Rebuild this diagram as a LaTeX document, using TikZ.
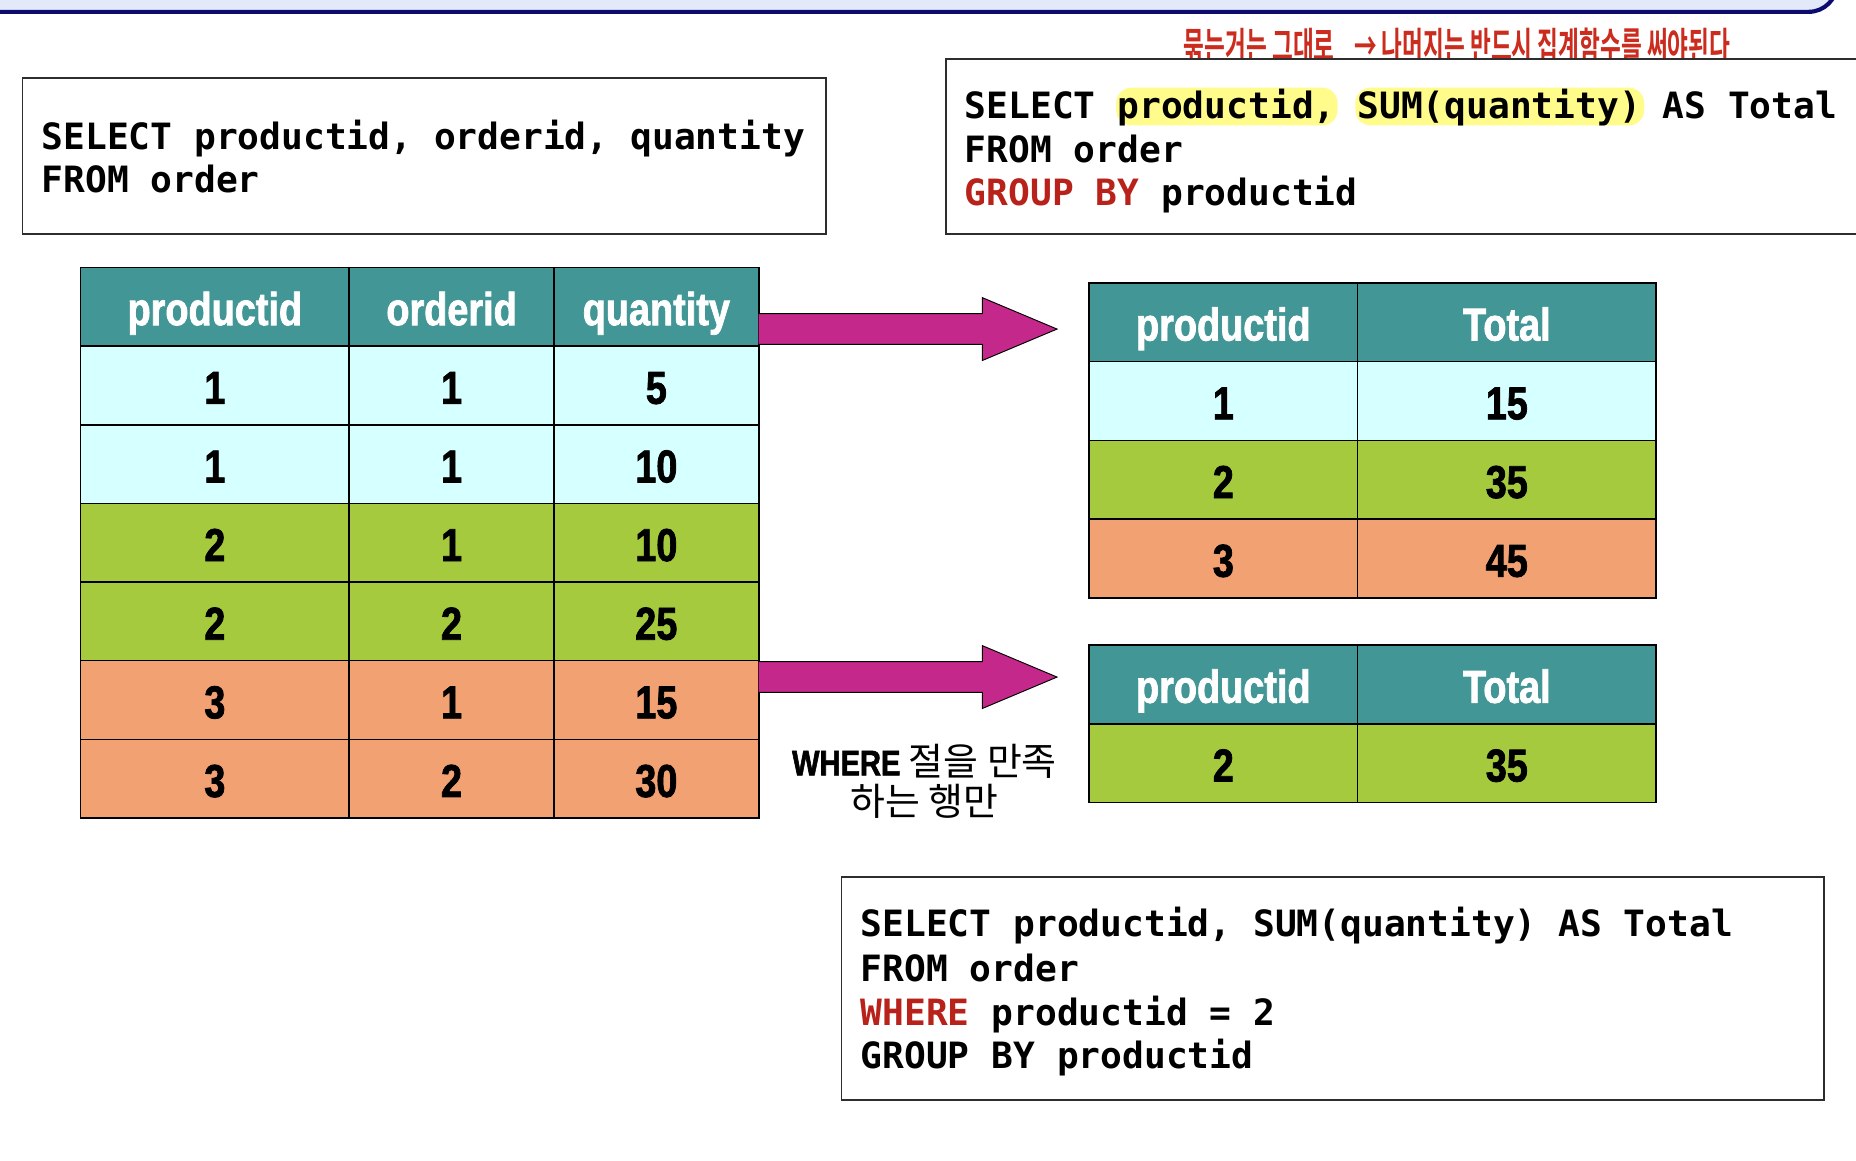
\documentclass[tikz,border=0pt]{standalone}
\usepackage{fontspec}
\usetikzlibrary{calc}
\newfontfamily\codefont{DejaVu Sans Mono}
\newfontfamily\narrowfont[FakeStretch=0.82,FakeBold=1.6]{Liberation Sans Bold}
\newfontfamily\krfont{Noto Sans CJK KR}
\newfontfamily\krbold{Noto Sans CJK KR Bold}
\definecolor{navybar}{RGB}{12,12,110}
\definecolor{barblue}{RGB}{226,234,250}
\definecolor{boxgray}{RGB}{45,45,45}
\definecolor{headteal}{RGB}{66,150,150}
\definecolor{rowcyan}{RGB}{214,255,255}
\definecolor{rowgreen}{RGB}{166,202,62}
\definecolor{roworange}{RGB}{241,161,114}
\definecolor{arrowmag}{RGB}{196,40,138}
\definecolor{hlyellow}{RGB}{255,252,140}
\definecolor{codered}{RGB}{184,34,26}
\definecolor{handred}{RGB}{204,44,30}
\begin{document}
\begin{tikzpicture}[x=1pt,y=-1pt,
  codebox/.style={draw=boxgray, line width=1.5pt, fill=white, inner sep=0pt},
  codeline/.style={anchor=base west, inner sep=0pt, font=\codefont\bfseries\fontsize{30.6}{37}\selectfont},
  cell/.style={draw=black, line width=1.3pt, minimum height=66.45pt, inner sep=0pt,
    text height=31pt, text depth=0pt,
    font=\narrowfont\fontsize{39}{39}\selectfont},
  headcell/.style={cell, fill=headteal, text=white},
  fatarrow/.style={draw=black, line width=0.8pt, fill=arrowmag, line join=miter},
  hl/.style={fill=hlyellow, rounded corners=13pt}]
\useasboundingbox (0,0) rectangle (1568,980);
\fill[white] (0,0) rectangle (1568,980);

% top banner
\draw[draw=navybar, line width=3.5pt, fill=barblue, rounded corners=24pt] (-40,-60) rectangle (1552,10);

% handwritten note
\node[anchor=west, inner sep=0pt, text=handred, font=\krbold\fontsize{21}{21}\selectfont] (memo) at (1000,39)
  {\scalebox{0.91}[1.55]{묶는거는 그대로\hspace{18pt}→ 나머지는 반드시 집계함수를 써야된다}};

% query box 1
\node[codebox, minimum width=679pt, minimum height=132pt] (q1) at (358.5,132) {};
\node[codeline] (q1a) at (35,126) {SELECT productid, orderid, quantity};
\node[codeline] (q1b) at (35,163) {FROM order};

% query box 2
\node[codebox, minimum width=790pt, minimum height=148pt] (q2) at (1194,124) {};
\fill[hl] (943,74) rectangle (1130,106);
\fill[hl] (1145,74) rectangle (1389,106);
\node[codeline] (q2a) at (815,100) {SELECT productid, SUM(quantity) AS Total};
\node[codeline] (q2b) at (815,137) {FROM order};
\node[codeline] (q2c) at (815,174) {\textcolor{codered}{GROUP BY} productid};

% query box 3
\node[codebox, minimum width=830pt, minimum height=188pt] (q3) at (1126,835) {};
\node[codeline] (q3a) at (727,791) {SELECT productid, SUM(quantity) AS Total};
\node[codeline] (q3b) at (727,829) {FROM order};
\node[codeline] (q3c) at (727,866) {\textcolor{codered}{WHERE} productid = 2};
\node[codeline] (q3d) at (727,903) {GROUP BY productid};

% left table
\node[headcell, minimum width=227pt] (L0-a) at (181.5,259.2) {productid};
\node[headcell, minimum width=173pt] (L0-b) at (381.5,259.2) {orderid};
\node[headcell, minimum width=173pt] (L0-c) at (554.5,259.2) {quantity};
\foreach \pa/\pb/\pc/\col [count=\i] in {1/1/5/rowcyan,1/1/10/rowcyan,2/1/10/rowgreen,2/2/25/rowgreen,3/1/15/roworange,3/2/30/roworange}{
  \pgfmathsetmacro\yy{259.2+66.43*\i}
  \node[cell, fill=\col, minimum width=227pt] (L\i-a) at (181.5,\yy) {\pa};
  \node[cell, fill=\col, minimum width=173pt] (L\i-b) at (381.5,\yy) {\pb};
  \node[cell, fill=\col, minimum width=173pt] (L\i-c) at (554.5,\yy) {\pc};
}

% right table A
\node[headcell, minimum width=227pt] (A0-a) at (1033.5,272.25) {productid};
\node[headcell, minimum width=252pt] (A0-b) at (1273,272.25) {Total};
\foreach \pa/\pb/\col [count=\i] in {1/15/rowcyan,2/35/rowgreen,3/45/roworange}{
  \pgfmathsetmacro\yy{272.25+66.5*\i}
  \node[cell, fill=\col, minimum width=227pt] (A\i-a) at (1033.5,\yy) {\pa};
  \node[cell, fill=\col, minimum width=252pt] (A\i-b) at (1273,\yy) {\pb};
}

% right table B
\node[headcell, minimum width=227pt] (B0-a) at (1033.5,578.25) {productid};
\node[headcell, minimum width=252pt] (B0-b) at (1273,578.25) {Total};
\node[cell, fill=rowgreen, minimum width=227pt] (B1-a) at (1033.5,644.75) {2};
\node[cell, fill=rowgreen, minimum width=252pt] (B1-b) at (1273,644.75) {35};

% fat arrows
\coordinate (a1s) at (641,278);
\coordinate (a2s) at (641,572);
\foreach \s in {a1s,a2s}{
  \draw[fatarrow] ($(\s)+(0,-13)$) -- ($(\s)+(189,-13)$) -- ($(\s)+(189,-26.5)$) -- ($(\s)+(252,0)$)
    -- ($(\s)+(189,26.5)$) -- ($(\s)+(189,13)$) -- ($(\s)+(0,13)$);
}

% note under arrow 2
\node[align=center, inner sep=0pt, font=\krfont\fontsize{32}{34}\selectfont] (wnote) at (781,660)
  {{\narrowfont\fontsize{30}{34}\selectfont WHERE} 절을 만족\\하는 행만};
\end{tikzpicture}
\end{document}
